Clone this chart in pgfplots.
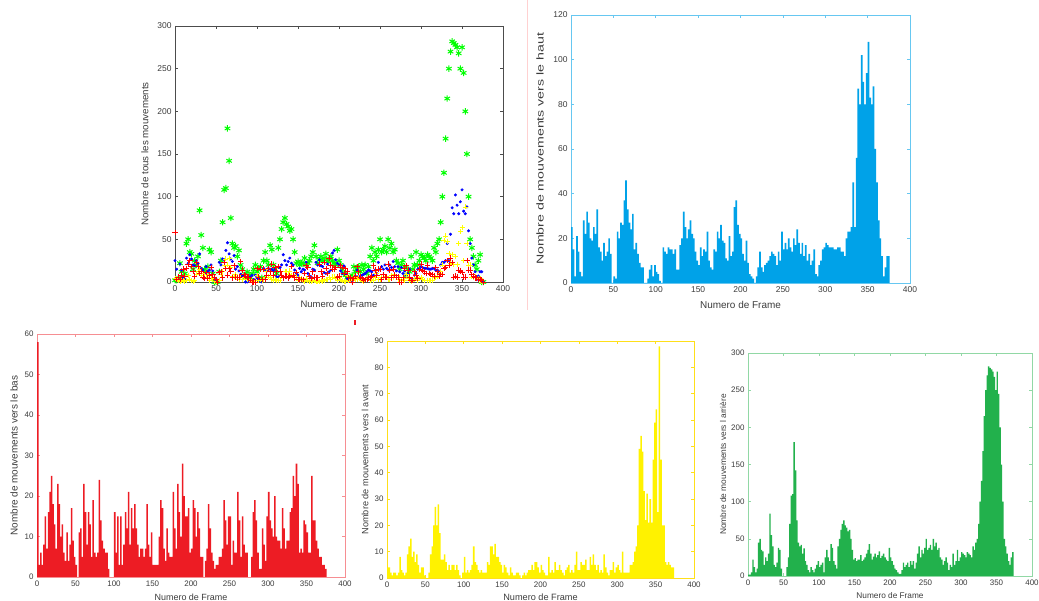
\documentclass[border=0pt]{standalone}
\usepackage{fontspec}
\setmainfont{Liberation Sans}
\usepackage{graphicx}
\usepackage{pgfplots}
\pgfplotsset{compat=1.18}
\usepackage{pgfplotstable}
\definecolor{pblue}{RGB}{0,162,232}
\definecolor{pred}{RGB}{237,28,36}
\definecolor{pyel}{RGB}{255,242,0}
\definecolor{pgreen}{RGB}{34,177,76}
\definecolor{txt}{RGB}{60,60,60}
\definecolor{mgreen}{RGB}{0,255,0}
\definecolor{mblue}{RGB}{0,0,255}
\definecolor{mred}{RGB}{255,0,0}
\definecolor{myel}{RGB}{255,255,0}

% x = frame, h = haut, b = bas, a = avant, g = arriere
\pgfplotstableread{
x h b a g
0 25 58 4 2
2 15 3 4 2
4 3 6 2 5
6 21 3 1 22
8 14 8 2 12
10 5 15 2 5
12 3 7 1 10
14 28 16 2 45
16 22 21 8 50
18 32 25 3 35
20 27 18 2 33
22 20 13 1 15
24 19 7 2 25
26 25 23 9 20
28 22 18 12 30
30 33 10 15 84
32 16 13 8 55
34 14 6 10 40
36 10 4 6 15
38 18 11 9 12
40 12 4 5 18
42 14 8 2 38
44 20 17 4 35
46 13 9 4 10
48 0 5 1 0
50 3 3 0 0
52 2 0 0 0
54 23 11 2 12
56 20 12 9 25
58 27 5 12 70
60 26 23 20 108
62 37 16 27 110
64 46 8 20 180
66 33 16 28 142
68 27 13 17 75
70 24 5 7 45
72 31 19 7 40
74 15 6 9 42
76 18 5 6 30
78 13 6 3 37
80 9 24 5 20
82 7 14 3 15
84 7 9 5 8
86 0 7 5 5
88 0 6 3 12
90 2 6 5 8
92 6 2 3 5
94 8 0 1 10
96 3 0 0 15
98 8 0 2 20
100 5 16 8 12
102 4 6 2 15
104 1 15 3 18
106 0 3 2 5
108 16 15 3 25
110 14 3 5 35
112 13 8 12 25
114 16 16 6 20
116 15 12 5 43
118 15 21 3 38
120 13 8 2 20
122 15 17 3 15
124 6 12 2 10
126 6 18 2 40
128 17 12 2 50
130 20 8 6 62
132 32 5 5 70
134 25 7 12 75
136 20 7 12 68
138 24 5 9 65
140 28 7 13 60
142 22 18 8 62
144 20 8 8 50
146 14 5 6 35
148 10 11 5 22
150 8 3 2 24
152 16 3 5 20
154 12 3 4 22
156 15 3 2 22
158 14 10 1 28
160 23 19 4 20
162 10 17 2 22
164 7 7 1 25
166 6 4 1 30
168 15 12 2 35
170 14 6 2 43
172 23 5 1 30
174 20 5 0 22
176 26 21 1 26
178 19 12 2 30
180 18 7 1 25
182 11 23 2 28
184 10 16 3 33
186 21 10 3 24
188 12 28 5 27
190 14 20 3 30
192 34 15 6 25
194 37 15 6 22
196 26 17 4 20
198 22 6 2 38
200 20 7 5 25
202 13 19 3 20
204 10 17 2 15
206 19 10 1 10
208 9 16 1 8
210 4 12 8 5
212 3 5 2 3
214 2 5 3 3
216 0 0 2 8
218 3 4 6 18
220 7 7 3 12
222 14 18 3 15
224 7 12 5 18
226 5 6 3 12
228 8 4 2 20
230 9 2 1 15
232 10 3 3 20
234 12 3 4 10
236 14 5 5 18
238 13 5 2 30
240 12 7 3 40
242 8 19 2 25
244 14 14 5 35
246 10 8 10 30
248 23 15 3 38
250 15 15 3 50
252 18 3 6 35
254 15 9 5 38
256 20 6 5 42
258 16 6 7 35
260 14 21 3 50
262 20 14 3 40
264 17 5 8 45
266 24 15 5 35
268 18 8 9 38
270 13 6 5 25
272 18 6 3 22
274 12 0 5 15
276 17 0 2 20
278 10 5 3 25
280 13 16 2 18
282 8 19 9 8
284 10 14 4 15
286 15 6 2 12
288 4 2 1 30
290 3 2 3 15
292 8 12 3 20
294 10 8 6 35
296 15 4 2 20
298 16 15 4 25
300 18 21 5 32
302 17 14 3 30
304 16 12 2 28
306 16 10 10 25
308 16 20 2 32
310 15 10 2 30
312 15 9 2 28
314 16 9 2 25
316 16 7 5 40
318 14 17 5 35
320 14 12 6 45
322 12 7 10 50
324 20 9 12 70
326 23 9 20 100
328 23 16 49 128
330 25 17 54 168
332 45 25 48 215
334 25 20 33 250
336 56 28 22 270
338 87 23 32 282
340 80 6 21 280
342 102 7 30 278
344 90 6 21 275
346 80 14 45 268
348 94 13 59 250
350 108 11 64 275
352 83 6 25 245
354 80 6 88 200
356 88 25 45 150
358 60 14 20 100
360 45 14 20 50
362 28 9 6 40
364 20 7 5 30
366 12 5 6 20
368 3 5 5 15
370 7 3 4 25
372 12 3 4 32
374 12 2 0 0
376 0 0 0 0
}\data

\pgfplotsset{
  mstyle/.style={
    scale only axis, xmin=0, xmax=400, ymin=0,
    xtick={0,50,...,400},
    tick align=inside, tick pos=both, major tick length=3bp,
    axis line style={#1, line width=0.7bp},
    tick style={#1, line width=0.6bp},
    /pgf/number format/assume math mode=true,
    tick label style={text=txt},
    label style={text=txt},
    xlabel={Numero de Frame},
  },
  tfont/.style={tick label style={font=\fontsize{#1}{#1}\selectfont}},
  xlab/.style 2 args={xlabel style={at={([yshift=-#1bp]axis description cs:0.5,0)}, anchor=center, font=\fontsize{#2}{#2}\selectfont}},
  ylab/.style 2 args={ylabel style={at={([xshift=-#1bp]axis description cs:0,0.5)}, anchor=center, font=\fontsize{#2}{#2}\selectfont}},
}

\begin{document}
\begin{tikzpicture}
\useasboundingbox (0,0) rectangle (1039bp,601bp);
\draw[red!18, line width=0.6bp] (527bp,601bp) -- (527bp,291bp);
\draw[pred, line width=1.2bp] (355bp,276bp) -- (355bp,281bp);

% Panel 1: scatter of all
\begin{axis}[mstyle=black!70, at={(175bp,319bp)}, anchor=south west,
  width=328bp, height=256bp, ymax=300, ytick={0,50,...,300},
  tfont=8.5, xlab={22}{9.5}, ylab={30}{9.8}, clip=false,
  ylabel={Nombre de tous les mouvements}]
\addplot[only marks, mark=asterisk, mark size=3.2bp, color=mgreen, mark options={line width=1bp}] table[x=x,y=g]{\data};
\addplot[only marks, mark=*, mark size=1.3bp, color=mblue] table[x=x,y=h]{\data};
\addplot[only marks, mark=+, mark size=2.5bp, color=myel, mark options={line width=0.7bp}] table[x=x,y=a]{\data};
\addplot[only marks, mark=+, mark size=2.8bp, color=mred, mark options={line width=0.7bp}] table[x=x,y=b]{\data};
\end{axis}

% Panel 2: haut
\begin{axis}[mstyle=pblue!60, at={(571bp,318bp)}, anchor=south west,
  width=339bp, height=268bp, ymax=120, ytick={0,20,...,120},
  tfont=8.5, xlab={22}{10}, ylab={31}{10},
  ylabel={\scalebox{1.42}[1]{Nombre de mouvements vers le haut}}]
\addplot[const plot, fill=pblue, draw=none] table[x=x,y=h]{\data} \closedcycle;
\end{axis}

% Panel 3: bas
\begin{axis}[mstyle=pred!50, at={(37bp,24bp)}, anchor=south west,
  width=308bp, height=243bp, ymax=60, ytick={0,10,...,60},
  tfont=8, xlab={20}{9}, ylab={23}{10},
  ylabel={Nombre de mouvements vers le bas}]
\addplot[const plot, fill=pred, draw=none] table[x=x,y=b]{\data} \closedcycle;
\end{axis}

% Panel 4: avant
\begin{axis}[mstyle=pyel!80!orange!90, at={(387bp,23bp)}, anchor=south west,
  width=307bp, height=237bp, ymax=90, ytick={0,10,...,90},
  tfont=8, xlab={19}{9.2}, ylab={22}{9.2},
  ylabel={Nombre de mouvements vers l avant}]
\addplot[const plot, fill=pyel, draw=none] table[x=x,y=a]{\data} \closedcycle;
\end{axis}

% Panel 5: arriere
\begin{axis}[mstyle=pgreen!50, at={(748bp,25bp)}, anchor=south west,
  width=284bp, height=223bp, ymax=300, ytick={0,50,...,300},
  tfont=8, xlab={20}{8.3}, ylab={25}{8.4},
  ylabel={Nombre de mouvements vers l arrière}]
\addplot[const plot, fill=pgreen, draw=none] table[x=x,y=g]{\data} \closedcycle;
\end{axis}
\end{tikzpicture}
\end{document}
